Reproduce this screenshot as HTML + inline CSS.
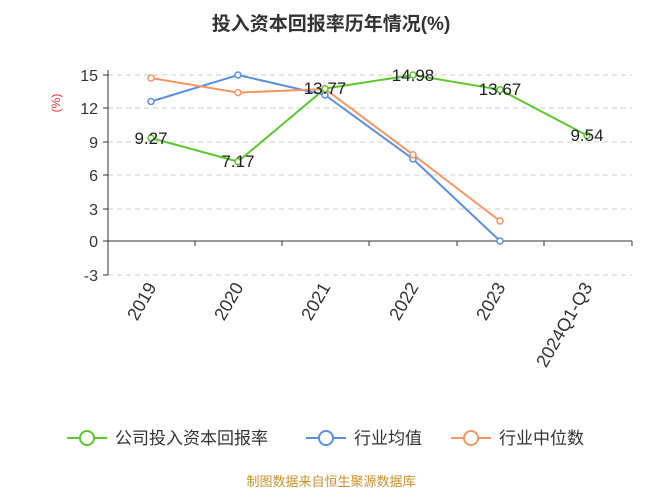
<!DOCTYPE html>
<html><head><meta charset="utf-8"><style>
body{margin:0;background:#fff;width:663px;height:493px;overflow:hidden}
svg{font-family:"Liberation Sans","Noto Sans CJK SC",sans-serif}
</style></head><body>
<svg width="663" height="493" xmlns="http://www.w3.org/2000/svg">
<text x="331" y="30" text-anchor="middle" font-size="19" font-weight="bold" fill="#333">投入资本回报率历年情况(%)</text>
<text x="60" y="103" font-size="12" fill="#e03030" transform="rotate(-90 60 103)" text-anchor="middle">(%)</text>
<g stroke="#ccc" stroke-dasharray="5,4">
<line x1="108" x2="632" y1="75" y2="75"/><line x1="108" x2="632" y1="108" y2="108"/>
<line x1="108" x2="632" y1="142" y2="142"/><line x1="108" x2="632" y1="175" y2="175"/>
<line x1="108" x2="632" y1="209" y2="209"/><line x1="108" x2="632" y1="275" y2="275"/>
</g>
<line x1="108" x2="632" y1="241" y2="241" stroke="#333"/>
<line x1="108" x2="108" y1="70" y2="275" stroke="#333"/>
<g stroke="#333">
<line x1="103" x2="108" y1="75" y2="75"/><line x1="103" x2="108" y1="108" y2="108"/><line x1="103" x2="108" y1="142" y2="142"/><line x1="103" x2="108" y1="175" y2="175"/><line x1="103" x2="108" y1="209" y2="209"/><line x1="103" x2="108" y1="241" y2="241"/><line x1="103" x2="108" y1="275" y2="275"/>
<line x1="195" x2="195" y1="241" y2="246"/><line x1="282" x2="282" y1="241" y2="246"/><line x1="369" x2="369" y1="241" y2="246"/><line x1="457" x2="457" y1="241" y2="246"/><line x1="544" x2="544" y1="241" y2="246"/><line x1="632" x2="632" y1="241" y2="246"/>
</g>
<g font-size="16" fill="#333" text-anchor="end">
<text x="98" y="81">15</text><text x="98" y="114">12</text><text x="98" y="148">9</text><text x="98" y="181">6</text><text x="98" y="215">3</text><text x="98" y="247">0</text><text x="98" y="281">-3</text>
</g>
<g font-size="18" fill="#333" text-anchor="end">
<text transform="translate(157,287) rotate(-60)">2019</text>
<text transform="translate(244,287) rotate(-60)">2020</text>
<text transform="translate(331,287) rotate(-60)">2021</text>
<text transform="translate(419,287) rotate(-60)">2022</text>
<text transform="translate(506,287) rotate(-60)">2023</text>
<text transform="translate(593,287) rotate(-60)">2024Q1-Q3</text>
</g>
<polyline fill="none" stroke="#5b8ee0" stroke-width="2" points="151,101.5 238,75 325,95 413,159 500,241"/>
<polyline fill="none" stroke="#f59563" stroke-width="2" points="151,78 238,92.6 325,89 413,154.7 500,221"/>
<polyline fill="none" stroke="#5cc72e" stroke-width="2" points="151,138 238,161.6 325,88.6 413,75 500,89.7 587,135.4"/>
<g fill="#fff" stroke-width="1.5">
<g stroke="#5b8ee0"><circle cx="151" cy="101.5" r="3"/><circle cx="238" cy="75" r="3"/><circle cx="325" cy="95" r="3"/><circle cx="413" cy="159" r="3"/><circle cx="500" cy="241" r="3"/></g>
<g stroke="#f59563"><circle cx="151" cy="78" r="3"/><circle cx="238" cy="92.6" r="3"/><circle cx="325" cy="89" r="3"/><circle cx="413" cy="154.7" r="3"/><circle cx="500" cy="221" r="3"/></g>
<g stroke="#5cc72e"><circle cx="151" cy="138" r="3"/><circle cx="238" cy="161.6" r="3"/><circle cx="325" cy="88.6" r="3"/><circle cx="413" cy="75" r="3"/><circle cx="500" cy="89.7" r="3"/><circle cx="587" cy="135.4" r="3"/></g>
</g>
<g font-size="17" fill="#222" text-anchor="middle">
<text x="151" y="144">9.27</text><text x="238" y="167">7.17</text><text x="325" y="94">13.77</text><text x="413" y="81">14.98</text><text x="500" y="95">13.67</text><text x="587" y="141">9.54</text>
</g>
<g font-size="17" fill="#333">
<line x1="67" x2="107" y1="438" y2="438" stroke="#5cc72e" stroke-width="2"/><circle cx="87" cy="438" r="7" fill="#fff" stroke="#5cc72e" stroke-width="2"/>
<text x="115" y="444">公司投入资本回报率</text>
<line x1="306" x2="346" y1="438" y2="438" stroke="#5b8ee0" stroke-width="2"/><circle cx="326" cy="438" r="7" fill="#fff" stroke="#5b8ee0" stroke-width="2"/>
<text x="354" y="444">行业均值</text>
<line x1="451" x2="491" y1="438" y2="438" stroke="#f59563" stroke-width="2"/><circle cx="471" cy="438" r="7" fill="#fff" stroke="#f59563" stroke-width="2"/>
<text x="499" y="444">行业中位数</text>
</g>
<text x="331" y="486" text-anchor="middle" font-size="13" fill="#c8902c">制图数据来自恒生聚源数据库</text>
</svg>
</body></html>
